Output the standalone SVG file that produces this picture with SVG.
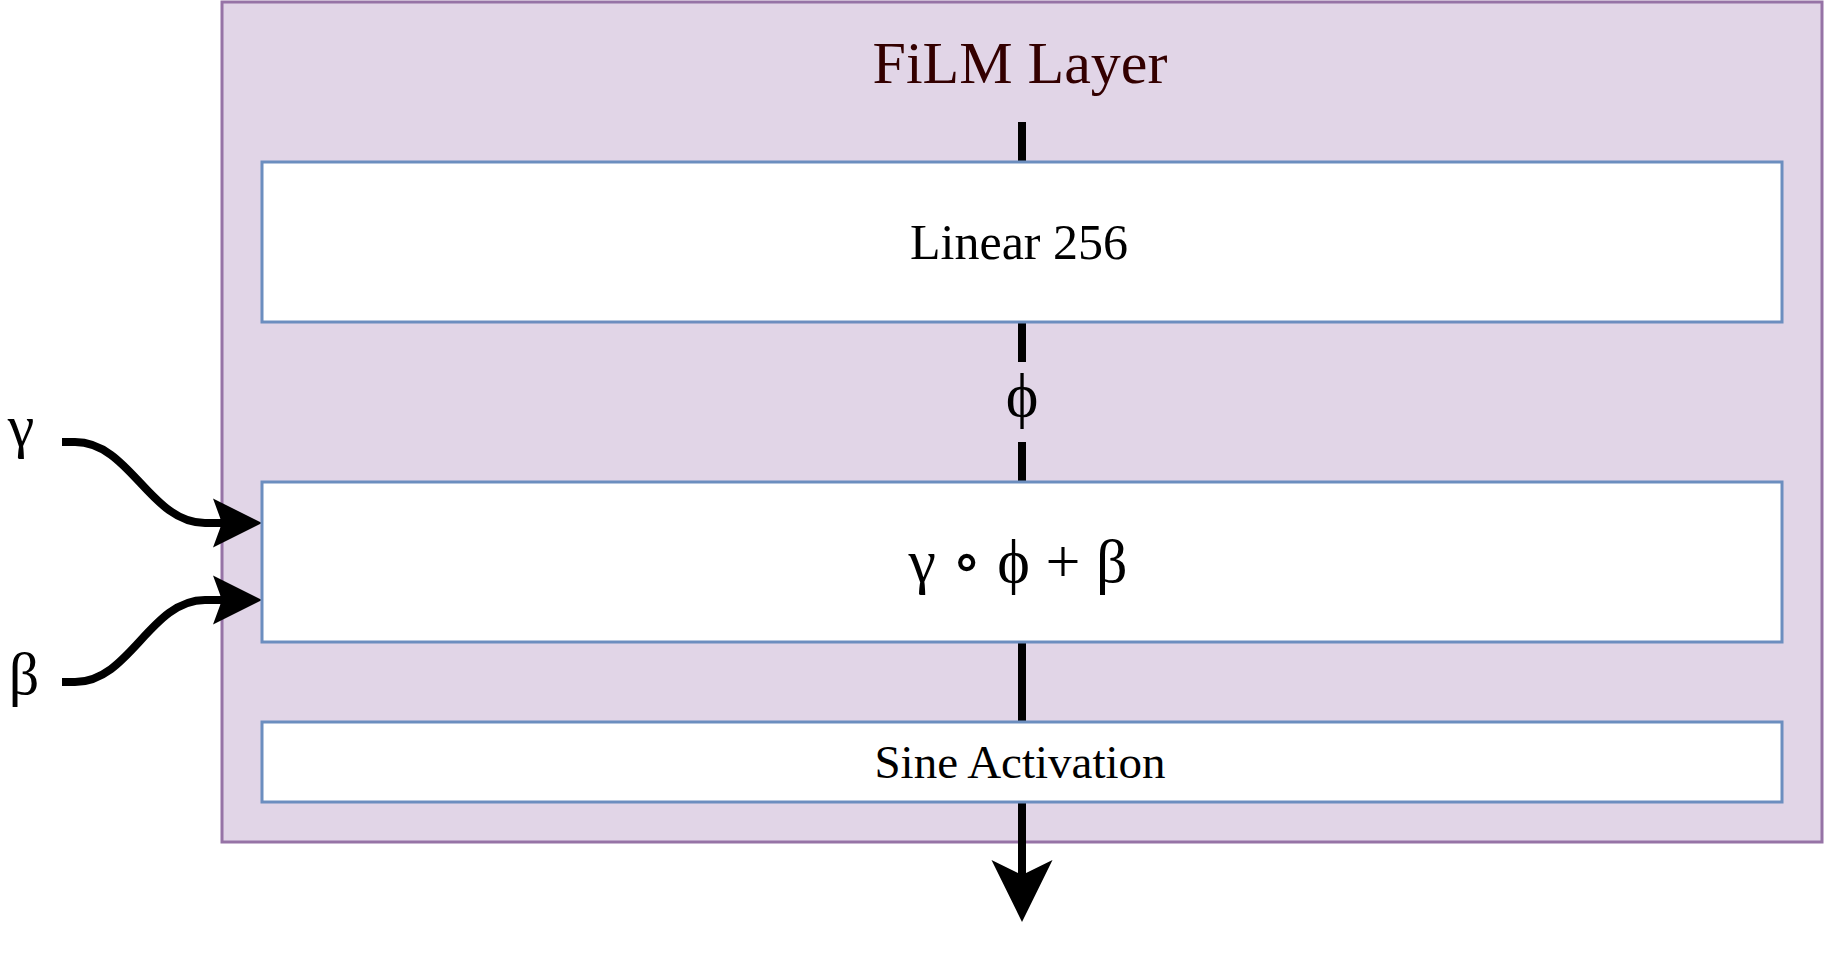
<svg xmlns="http://www.w3.org/2000/svg" width="1824" height="972" viewBox="0 0 1824 972">
  <style>
    .container { fill: #e1d5e7; stroke: #9673a6; stroke-width: 3; }
    .box { fill: #ffffff; stroke: #6c8ebf; stroke-width: 3; }
    .txt { font-family: "Liberation Serif", "DejaVu Serif", serif; fill: #000000; text-anchor: middle; }
    .title { font-family: "Liberation Serif", "DejaVu Serif", serif; fill: #330000; text-anchor: middle; font-size: 60px; }
    .edge { fill: none; stroke: #000000; stroke-width: 8; }
  </style>
  <defs>
    <marker id="arrowSm" markerUnits="userSpaceOnUse" viewBox="0 -25 50 50" markerWidth="50" markerHeight="50" refX="27" refY="0" orient="auto" overflow="visible">
      <path d="M0 -24.5 L49 0 L0 24.5 L9 0 Z" fill="#000000"/>
    </marker>
    <marker id="arrowLg" markerUnits="userSpaceOnUse" viewBox="0 -31 62 62" markerWidth="62" markerHeight="62" refX="30" refY="0" orient="auto" overflow="visible">
      <path d="M0 -30.5 L62 0 L0 30.5 L15 0 Z" fill="#000000"/>
    </marker>
  </defs>

  <g id="film-layer">
    <rect class="container" x="222" y="2" width="1600" height="840"/>
    <text class="title" x="1020" y="83">FiLM Layer</text>
  </g>

  <g id="connectors">
    <path class="edge" d="M1022 122 V162 M1022 322 V362 M1022 442 V482 M1022 642 V722 M1022 802 V890" marker-end="url(#arrowLg)"/>
    <path class="edge" d="M62 442 L75 442 C130 442 150 523 205 523 L240 523" marker-end="url(#arrowSm)"/>
    <path class="edge" d="M62 682 L75 682 C130 682 150 600 205 600 L240 600" marker-end="url(#arrowSm)"/>
    <text class="txt" x="1022" y="416" font-size="62">ϕ</text>
  </g>

  <g id="linear-256">
    <rect class="box" x="262" y="162" width="1520" height="160"/>
    <text class="txt" x="1019" y="259" font-size="50">Linear 256</text>
  </g>

  <g id="film-op">
    <rect class="box" x="262" y="482" width="1520" height="160"/>
    <text class="txt" x="1018" y="582" font-size="62">γ ∘ ϕ + β</text>
  </g>

  <g id="sine-activation">
    <rect class="box" x="262" y="722" width="1520" height="80"/>
    <text class="txt" x="1020" y="778" font-size="47">Sine Activation</text>
  </g>

  <g id="gamma-input">
    <text class="txt" x="21" y="446" font-size="60">γ</text>
  </g>
  <g id="beta-input">
    <text class="txt" x="24" y="694" font-size="60">β</text>
  </g>
</svg>
